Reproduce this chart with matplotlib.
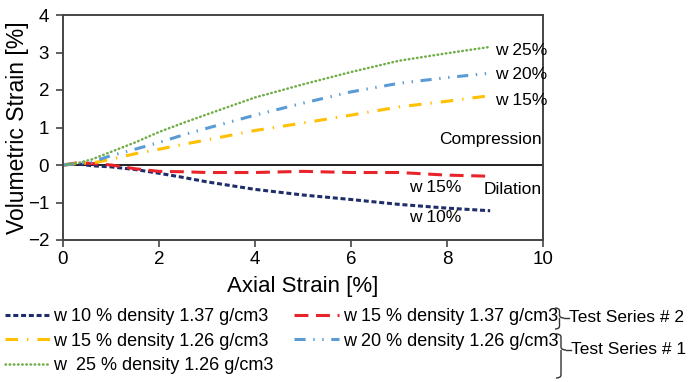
import matplotlib
matplotlib.use("Agg")
import matplotlib.pyplot as plt
from matplotlib.lines import Line2D
from matplotlib.path import Path
from matplotlib.patches import PathPatch

plt.rcParams['font.family'] = ['Liberation Sans', 'DejaVu Sans']
plt.rcParams['lines.scale_dashes'] = False

axial = [0, 0.3, 0.6, 1.0, 1.5, 2.0, 2.5, 3.0, 4.0, 5.0, 6.0, 7.0, 8.0, 8.9]
w10_137 = [0, 0.03, -0.02, -0.05, -0.12, -0.22, -0.33, -0.45, -0.65, -0.8, -0.92, -1.05, -1.15, -1.22]
w15_137 = [0, 0.06, 0.04, 0.0, -0.1, -0.17, -0.18, -0.2, -0.2, -0.17, -0.2, -0.2, -0.27, -0.3]
w15_126 = [0, 0.04, 0.05, 0.15, 0.3, 0.42, 0.55, 0.67, 0.92, 1.12, 1.33, 1.55, 1.7, 1.85]
w20_126 = [0, 0.04, 0.08, 0.25, 0.42, 0.6, 0.8, 0.98, 1.33, 1.65, 1.95, 2.18, 2.33, 2.45]
w25_126 = [0, 0.05, 0.15, 0.35, 0.6, 0.88, 1.12, 1.35, 1.8, 2.15, 2.48, 2.78, 2.98, 3.15]

series_labels = ["w 10 % density 1.37 g/cm3", "w 15 % density 1.37 g/cm3",
                 "w 15 % density 1.26 g/cm3", "w 20 % density 1.26 g/cm3",
                 "w  25 % density 1.26 g/cm3"]
x_ticks = [0, 2, 4, 6, 8, 10]
y_ticks = [-2, -1, 0, 1, 2, 3, 4]

W, H = 690, 382
fig = plt.figure(figsize=(W / 100, H / 100), dpi=100)
AX_L, AX_R, AX_T, AX_B = 63, 543, 15, 240
ax = fig.add_axes([AX_L / W, 1 - AX_B / H, (AX_R - AX_L) / W, (AX_B - AX_T) / H])

navy = '#1F2D6B'
red = '#E8242A'
gold = '#FFC000'
blue = '#5B9BD5'
green = '#70AD47'

l10, = ax.plot(axial, w10_137, color=navy, lw=2.2, dashes=(3.6, 2.0), label=series_labels[0])
l15a, = ax.plot(axial, w15_137, color=red, lw=2.2, dashes=(10.0, 5.5), label=series_labels[1])
l15b, = ax.plot(axial, w15_126, color=gold, lw=2.2, dashes=(9.0, 6.5, 1.0, 6.5), label=series_labels[2])
l20, = ax.plot(axial, w20_126, color=blue, lw=2.2, dashes=(8.0, 5.5, 1.0, 5.5, 1.0, 5.5), label=series_labels[3])
l25, = ax.plot(axial, w25_126, color=green, lw=1.8, dashes=(0.4, 2.6), dash_capstyle='round', label=series_labels[4])

ax.axhline(0, color='#222222', lw=1.4, zorder=1)

ax.set_xlim(0, 10)
ax.set_ylim(-2, 4)
ax.set_xticks(x_ticks)
ax.set_yticks(y_ticks)
ax.tick_params(direction='out', length=5, width=1.2, color='#444444', labelsize=13.5)
ax.tick_params(axis='y', pad=5)
ax.tick_params(axis='x', pad=3)
for s in ax.spines.values():
    s.set_color('#444444')
    s.set_linewidth(1.4)
ax.set_xlabel("Axial Strain [%]", fontsize=16)
ax.set_ylabel("Volumetric Strain [%]", fontsize=16.5)
ax.xaxis.set_label_coords(0.5, (AX_B - 276) / (AX_B - AX_T))
ax.yaxis.set_label_coords((29 - AX_L) / (AX_R - AX_L), 0.5)

tk = dict(fontsize=12.5, va='center')
ax.text(9.0, 3.05, "w 25%", ha='left', **tk)
ax.text(9.0, 2.42, "w 20%", ha='left', **tk)
ax.text(9.0, 1.72, "w 15%", ha='left', **tk)
ax.text(9.97, 0.68, "Compression", ha='right', **tk)
ax.text(9.97, -0.65, "Dilation", ha='right', **tk)
ax.text(7.2, -0.6, "w 15%", ha='left', **tk)
ax.text(7.2, -1.4, "w 10%", ha='left', **tk)

handles = [l10, l15b, l25, l15a, l20]
leg = fig.legend(handles=handles, labels=[h.get_label() for h in handles], ncol=2,
                 loc='upper left', bbox_to_anchor=(5 / W, 1 - 308 / H), frameon=False,
                 fontsize=13, handlelength=2.5, handletextpad=0.17, columnspacing=1.15,
                 labelspacing=0.42, borderaxespad=0, borderpad=0)


def brace(x0, ytop, ytip, ybot, w):
    fx = lambda X: X / W
    fy = lambda Y: 1 - Y / H
    xm = x0 + w * 0.5
    r = 3
    verts = [(fx(x0), fy(ytop)), (fx(xm), fy(ytop)), (fx(xm), fy(ytop + r)),
             (fx(xm), fy(ytip - r)), (fx(xm), fy(ytip)), (fx(x0 + w), fy(ytip)),
             (fx(xm), fy(ytip)), (fx(xm), fy(ytip + r)),
             (fx(xm), fy(ybot - r)), (fx(xm), fy(ybot)), (fx(x0), fy(ybot))]
    codes = [Path.MOVETO, Path.CURVE3, Path.CURVE3,
             Path.LINETO, Path.CURVE3, Path.CURVE3,
             Path.MOVETO, Path.CURVE3,
             Path.LINETO, Path.CURVE3, Path.CURVE3]
    p = PathPatch(Path(verts, codes), transform=fig.transFigure, fill=False,
                  edgecolor='#333333', lw=1.0)
    fig.add_artist(p)
    fig.add_artist(Line2D([fx(x0 + w), fx(x0 + w + 5)], [fy(ytip), fy(ytip)],
                          transform=fig.transFigure, color='#333333', lw=1.0))


brace(555, 308, 318, 329, 9)
fig.text(569 / W, 1 - 318 / H, "Test Series # 2", fontsize=12.5, va='center', ha='left')

brace(556, 334, 350, 378, 10)
fig.text(571 / W, 1 - 350 / H, "Test Series # 1", fontsize=12.5, va='center', ha='left')

fig.savefig("out.png", dpi=100)
